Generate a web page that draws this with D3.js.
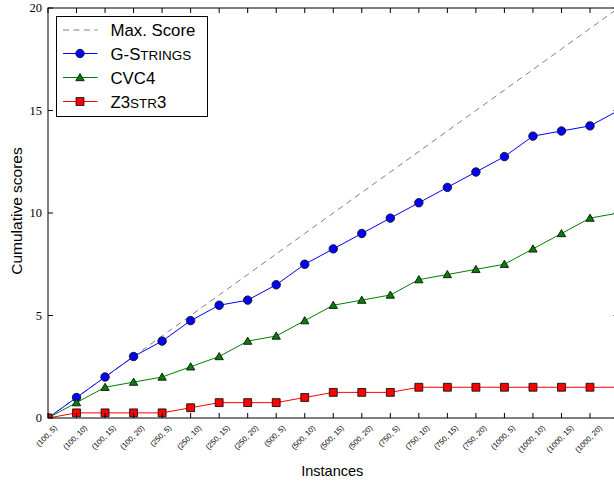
<!DOCTYPE html>
<html>
<head>
<meta charset="utf-8">
<script src="https://cdn.jsdelivr.net/npm/d3@7"></script>
<style>
  html, body { margin: 0; padding: 0; background: #fff; }
  svg { display: block; }
</style>
</head>
<body>
<svg id="chart" width="614" height="483"></svg>
<script>
// ---------------- data ----------------
const categories = ["(100, 5)", "(100, 10)", "(100, 15)", "(100, 20)",
  "(250, 5)", "(250, 10)", "(250, 15)", "(250, 20)",
  "(500, 5)", "(500, 10)", "(500, 15)", "(500, 20)",
  "(750, 5)", "(750, 10)", "(750, 15)", "(750, 20)",
  "(1000, 5)", "(1000, 10)", "(1000, 15)", "(1000, 20)"];
const maxScore = [0, 1, 2, 3, 4, 5, 6, 7, 8, 9, 10, 11, 12, 13, 14, 15, 16, 17, 18, 19, 20];
const gStrings = [0, 1, 2, 3, 3.75, 4.75, 5.5, 5.75, 6.5, 7.5, 8.25, 9, 9.75, 10.5, 11.25, 12, 12.75, 13.75, 14, 14.25, 15];
const cvc4 = [0, 0.75, 1.5, 1.75, 2, 2.5, 3, 3.75, 4, 4.75, 5.5, 5.75, 6, 6.75, 7, 7.25, 7.5, 8.25, 9, 9.75, 10];
const z3str3 = [0, 0.25, 0.25, 0.25, 0.25, 0.5, 0.75, 0.75, 0.75, 1, 1.25, 1.25, 1.25, 1.5, 1.5, 1.5, 1.5, 1.5, 1.5, 1.5, 1.5];
const yTicks = [0, 5, 10, 15, 20];

// ---------------- layout ----------------
const svg = d3.select("#chart");
const pLeft = 48, pTop = 8, pBottom = 418;
const step = 542 / 19;
const pRight = pLeft + 20 * step;

const x = d3.scaleLinear().domain([0, 20]).range([pLeft, pRight]);
const y = d3.scaleLinear().domain([0, 20]).range([pBottom, pTop]);

svg.append("defs").append("clipPath").attr("id", "plotclip")
  .append("rect").attr("x", pLeft).attr("y", pTop)
  .attr("width", pRight - pLeft).attr("height", pBottom - pTop);

const plot = svg.append("g").attr("clip-path", "url(#plotclip)");
const line = d3.line().x((d, i) => x(i)).y(d => y(d));

// Max score dashed
plot.append("path").datum(maxScore)
  .attr("d", line).attr("fill", "none")
  .attr("stroke", "#808080").attr("stroke-width", 1)
  .attr("stroke-dasharray", "6,4.5");

const series = [
  { name: "z3", data: z3str3, color: "#ff0000", sym: d3.symbolSquare, size: 62 },
  { name: "cvc4", data: cvc4, color: "#008000", sym: d3.symbolTriangle, size: 30 },
  { name: "g", data: gStrings, color: "#0000ff", sym: d3.symbolCircle, size: 56 }
];
const drawOrder = [series[2], series[1], series[0]];
drawOrder.forEach(s => {
  plot.append("path").datum(s.data)
    .attr("d", line).attr("fill", "none")
    .attr("stroke", s.color).attr("stroke-width", 1);
  plot.selectAll(null).data(s.data).enter().append("path")
    .attr("d", d3.symbol().type(s.sym).size(s.size))
    .attr("transform", (d, i) => `translate(${x(i)},${y(d) + (s.sym === d3.symbolTriangle ? 0.8 : 0)})`)
    .attr("fill", s.color).attr("stroke", "#111").attr("stroke-width", 0.9);
});

// ---------------- frame & ticks ----------------
svg.append("rect").attr("x", pLeft).attr("y", pTop)
  .attr("width", pRight - pLeft).attr("height", pBottom - pTop)
  .attr("fill", "none").attr("stroke", "#000").attr("stroke-width", 1);

const tickLen = 5;
const xIdx = d3.range(0, 21);
const tickG = svg.append("g").attr("stroke", "#000").attr("stroke-width", 1);
xIdx.forEach(i => {
  tickG.append("line").attr("x1", x(i)).attr("x2", x(i)).attr("y1", pBottom).attr("y2", pBottom - tickLen);
  tickG.append("line").attr("x1", x(i)).attr("x2", x(i)).attr("y1", pTop).attr("y2", pTop + tickLen);
});
yTicks.forEach(v => {
  tickG.append("line").attr("x1", pLeft).attr("x2", pLeft + tickLen).attr("y1", y(v)).attr("y2", y(v));
  tickG.append("line").attr("x1", pRight).attr("x2", pRight - tickLen).attr("y1", y(v)).attr("y2", y(v));
});

// y tick labels
svg.append("g").selectAll("text").data(yTicks).enter().append("text")
  .attr("x", pLeft - 6).attr("y", d => y(d))
  .attr("dy", "0.35em")
  .attr("text-anchor", "end")
  .attr("font-family", "'Liberation Serif', 'DejaVu Serif', serif")
  .attr("font-size", 12.5)
  .text(d => d);

// x tick labels (rotated 45°, bbox centred on tick, top aligned)
const xfs = 7.6;
const xl = svg.append("g");
categories.forEach((c, i) => {
  const t = xl.append("text")
    .attr("font-family", "'Liberation Sans', Arial, sans-serif")
    .attr("font-size", xfs)
    .attr("text-anchor", "middle")
    .attr("dy", "0.35em")
    .text(c);
  const L = t.node().getComputedTextLength();
  const h = (L + xfs) * Math.SQRT1_2;
  const cy = 424 + h / 2;
  t.attr("transform", `translate(${x(i) - 1.5},${cy}) rotate(-45)`);
});

// axis titles
svg.append("text").attr("x", (pLeft + pRight) / 2 - 1).attr("y", 476)
  .attr("text-anchor", "middle")
  .attr("font-family", "'Liberation Sans', Arial, sans-serif")
  .attr("font-size", 14.5).text("Instances");
svg.append("text").attr("transform", `translate(22,${(pTop + pBottom) / 2 - 2}) rotate(-90)`)
  .attr("text-anchor", "middle")
  .attr("font-family", "'Liberation Sans', Arial, sans-serif")
  .attr("font-size", 15.5).text("Cumulative scores");

// ---------------- legend ----------------
const lg = svg.append("g");
lg.append("rect").attr("x", 56.5).attr("y", 16.5).attr("width", 151).attr("height", 100)
  .attr("fill", "#fff").attr("stroke", "#000").attr("stroke-width", 1);
const legendItems = [
  { label: [["Max. Score", 1]], color: "#808080", dash: "6,4.5", sym: null },
  { label: [["G-S", 1], ["TRINGS", 0.8]], color: "#0000ff", sym: d3.symbolCircle, size: 56 },
  { label: [["CVC4", 1]], color: "#008000", sym: d3.symbolTriangle, size: 30 },
  { label: [["Z3", 1], ["STR", 0.8], ["3", 1]], color: "#ff0000", sym: d3.symbolSquare, size: 62 }
];
const rowY = [30, 53.5, 77.5, 101.5];
const lfs = 16.8;
legendItems.forEach((it, k) => {
  const yy = rowY[k];
  lg.append("line").attr("x1", 63).attr("x2", 97.5).attr("y1", yy).attr("y2", yy)
    .attr("stroke", it.color).attr("stroke-width", 1)
    .attr("stroke-dasharray", it.dash || null);
  if (it.sym) {
    lg.append("path").attr("d", d3.symbol().type(it.sym).size(it.size)())
      .attr("transform", `translate(80,${yy + (it.sym === d3.symbolTriangle ? 0.8 : 0)})`)
      .attr("fill", it.color).attr("stroke", "#111").attr("stroke-width", 0.9);
  }
  const t = lg.append("text").attr("x", 110.5).attr("y", yy + 6)
    .attr("font-family", "'Liberation Sans', Arial, sans-serif")
    .attr("font-size", lfs);
  it.label.forEach(([s, f]) => {
    t.append("tspan").attr("font-size", lfs * f).text(s);
  });
});
</script>
</body>
</html>
